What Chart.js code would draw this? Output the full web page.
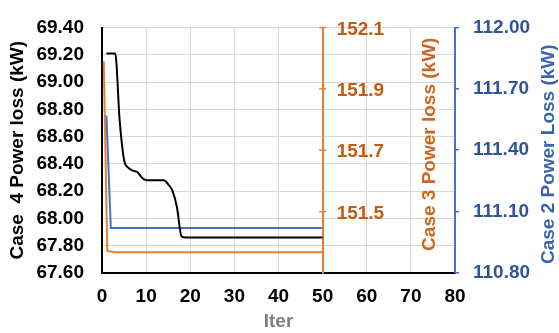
<!DOCTYPE html>
<html>
<head>
<meta charset="utf-8">
<title>Power loss convergence</title>
<script src="https://cdn.jsdelivr.net/npm/chart.js@4.4.1/dist/chart.umd.min.js"></script>
<style>
  html, body { margin: 0; padding: 0; background: #fff; }
  #wrap { width: 559px; height: 333px; position: relative; }
</style>
</head>
<body>
<div id="wrap"><canvas id="lossChart"></canvas></div>
<script>
// Case 4 (left axis)
const case4Iter = [1, 2, 3, 4, 5, 6, 7, 8, 9, 10, 11, 12, 13, 14, 15, 16, 17, 18, 19, 50];
const case4Loss = [69.21, 69.21, 69.21, 68.72, 68.43, 68.37, 68.35, 68.34, 68.30, 68.28,
                   68.28, 68.28, 68.28, 68.28, 68.25, 68.20, 68.08, 67.87, 67.86, 67.86];

// Case 3 (axis sitting at iter 50)
const case3Iter = [0.4, 1.2, 3, 50];
const case3Loss = [151.99, 151.372, 151.368, 151.368];

// Case 2 (right axis)
const case2Iter = [1, 2, 50];
const case2Loss = [111.57, 111.02, 111.02];

// tick values
const iterTicks = [0, 10, 20, 30, 40, 50, 60, 70, 80];
const case4Ticks = [67.6, 67.8, 68.0, 68.2, 68.4, 68.6, 68.8, 69.0, 69.2, 69.4];
const case3Ticks = [151.5, 151.7, 151.9, 152.1];
const case2Ticks = [110.8, 111.1, 111.4, 111.7, 112.0];
const case3AxisAt = 50;

const ORANGE = '#ED7D31';
const ORANGE_TEXT = '#C55A11';
const BLUE = '#4472C4';
const BLUE_TEXT = '#2F5597';
const GRID = '#D9D9D9';
const FAMILY = '"Liberation Sans", Arial, sans-serif';
const tickFont = { family: FAMILY, size: 19, weight: 'bold', lineHeight: 1 };
const titleFont = { family: FAMILY, size: 19, weight: 'bold', lineHeight: 1 };

const setTicks = list => scale => { scale.ticks = list.map(v => ({ value: v })); };
const pts = (xs, ys) => xs.map((x, i) => ({ x: x, y: ys[i] }));

// labels, cross ticks and titles for the case 3 axis, plus the case 2 title
const axisText = {
  id: 'axisText',
  afterDraw(chart) {
    const { ctx, scales } = chart;
    const y3 = scales.y3;
    const ax = scales.x.getPixelForValue(case3AxisAt);
    ctx.save();
    ctx.strokeStyle = ORANGE;
    ctx.lineWidth = 1.5;
    ctx.fillStyle = ORANGE_TEXT;
    ctx.font = 'bold 19px ' + FAMILY;
    ctx.textAlign = 'left';
    ctx.textBaseline = 'middle';
    y3.ticks.forEach(t => {
      const py = y3.getPixelForValue(t.value);
      ctx.beginPath();
      ctx.moveTo(ax - 3.5, py);
      ctx.lineTo(ax + 3.5, py);
      ctx.stroke();
      ctx.fillText(t.value.toFixed(1), ax + 14, py + 2);
    });

    const midY = (chart.chartArea.top + chart.chartArea.bottom) / 2;
    ctx.textAlign = 'center';
    ctx.save();
    ctx.translate(430, midY - 6);
    ctx.rotate(-Math.PI / 2);
    ctx.fillStyle = '#D0641C';
    ctx.fillText('Case 3 Power loss (kW)', 0, 0);
    ctx.restore();

    ctx.save();
    ctx.translate(549, midY + 4);
    ctx.rotate(-Math.PI / 2);
    ctx.fillStyle = '#3B64B0';
    ctx.fillText('Case 2 Power Loss (kW)', 0, 0);
    ctx.restore();
    ctx.restore();
  }
};

new Chart(document.getElementById('lossChart'), {
  type: 'line',
  data: {
    datasets: [
      {
        label: 'Case 4',
        data: pts(case4Iter, case4Loss),
        yAxisID: 'y',
        borderColor: '#000000',
        borderWidth: 2,
        pointRadius: 0,
        cubicInterpolationMode: 'monotone'
      },
      {
        label: 'Case 2',
        data: pts(case2Iter, case2Loss),
        yAxisID: 'y2',
        borderColor: BLUE,
        borderWidth: 2,
        pointRadius: 0,
        tension: 0
      },
      {
        label: 'Case 3',
        data: pts(case3Iter, case3Loss),
        yAxisID: 'y3',
        borderColor: ORANGE,
        borderWidth: 2,
        pointRadius: 0,
        tension: 0
      }
    ]
  },
  options: {
    responsive: true,
    maintainAspectRatio: false,
    animation: false,
    layout: { padding: { left: 0, right: 0, top: 15, bottom: 0 } },
    plugins: {
      legend: { display: false },
      tooltip: { enabled: false }
    },
    scales: {
      x: {
        type: 'linear',
        min: 0,
        max: 80,
        afterBuildTicks: setTicks(iterTicks),
        afterFit: s => { s.height = 60; },
        grid: { color: GRID, drawTicks: false },
        border: { color: '#000000', width: 2 },
        ticks: { font: tickFont, color: '#000000', padding: 14, maxRotation: 0 },
        title: {
          display: true,
          text: 'Iter',
          color: '#7F7F7F',
          font: titleFont,
          padding: { top: 0, bottom: 2 }
        }
      },
      y: {
        position: 'left',
        min: 67.6,
        max: 69.4,
        afterBuildTicks: setTicks(case4Ticks),
        afterFit: s => { s.width = 102; },
        grid: { color: GRID, drawTicks: false },
        border: { color: '#000000', width: 2 },
        ticks: { font: tickFont, color: '#000000', padding: 18, callback: v => v.toFixed(2) },
        title: {
          display: true,
          text: 'Case  4 Power loss (kW)',
          color: '#000000',
          font: titleFont,
          padding: { top: 8, bottom: 0 }
        }
      },
      y3: {
        axis: 'y',
        position: { x: case3AxisAt },
        min: 151.3,
        max: 152.1,
        afterBuildTicks: setTicks(case3Ticks),
        grid: { display: false },
        border: { color: ORANGE, width: 2 },
        ticks: { display: false }
      },
      y2: {
        position: 'right',
        min: 110.8,
        max: 112.0,
        afterBuildTicks: setTicks(case2Ticks),
        afterFit: s => { s.width = 104; },
        grid: { drawOnChartArea: false, color: BLUE, tickLength: 4, lineWidth: 1.5 },
        border: { color: BLUE, width: 2 },
        ticks: { font: tickFont, color: BLUE_TEXT, padding: 14, callback: v => v.toFixed(2) }
      }
    }
  },
  plugins: [axisText]
});
</script>
</body>
</html>
